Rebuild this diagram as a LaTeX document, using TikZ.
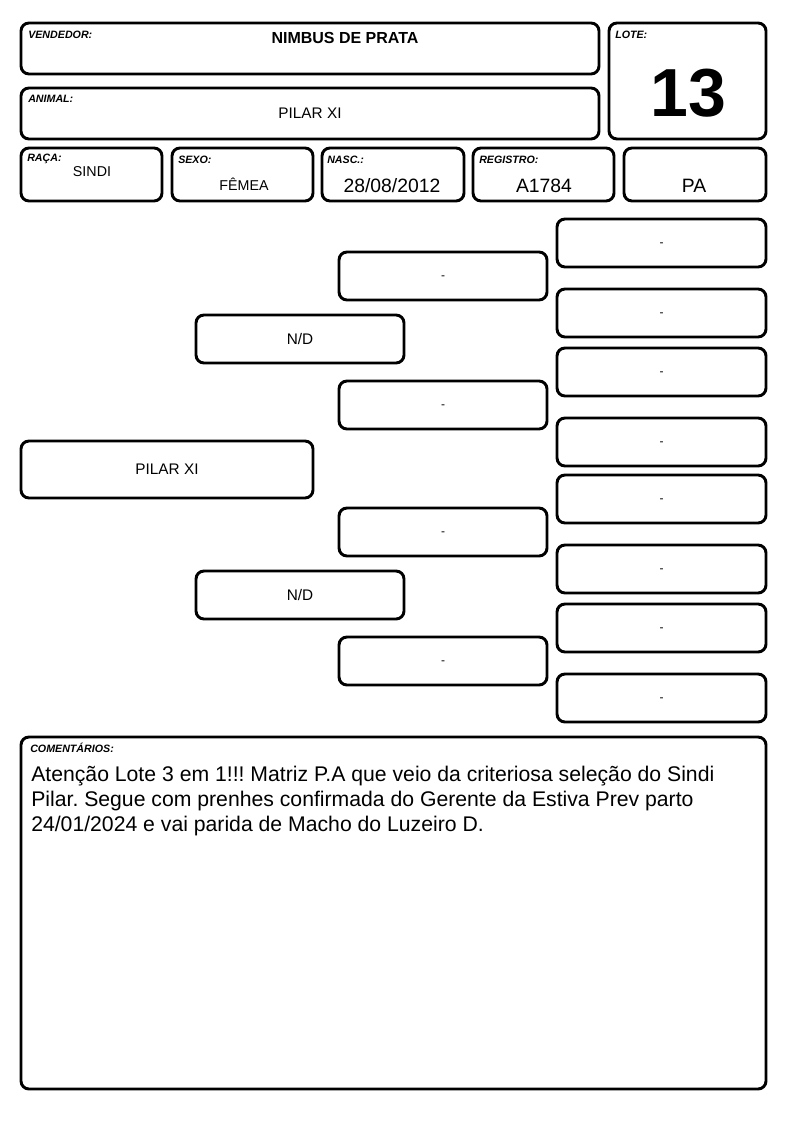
\documentclass[tikz,border=0pt]{standalone}
\usepackage{fontspec}
\setmainfont{Liberation Sans}
\begin{document}
\frenchspacing
\begin{tikzpicture}[x=0.75pt,y=-0.75pt,
  box/.style={draw=black, line width=2.2pt, rounded corners=6pt, inner sep=0pt, fill=white},
  lbl/.style={anchor=west, inner sep=0pt, font=\fontsize{8}{9}\selectfont\bfseries\itshape},
  val/.style={inner sep=0pt, font=\fontsize{10.7}{12}\selectfont},
  big/.style={inner sep=0pt, font=\fontsize{14.5}{16}\selectfont},
  ped/.style={inner sep=0pt, font=\fontsize{11.5}{13}\selectfont},
  emptyval/.style={inner sep=0pt, font=\fontsize{9}{10}\selectfont},
  comline/.style={anchor=base west, inner sep=0pt, font=\fontsize{15.9}{18.5}\selectfont}]
\newcommand\bx[5]{\node[box, minimum width={(#4-#2)*0.75pt}, minimum height={(#5-#3)*0.75pt}] (#1) at ({(#2+#4)/2},{(#3+#5)/2}) {};}
\useasboundingbox[fill=white] (0,0) rectangle (794,1123);
% header
\bx{vend}{21}{23}{599}{74}
\bx{anim}{21}{88}{599}{139}
\bx{lote}{609}{23}{766}{139}
\node[lbl] (vendl) at (28,35) {VENDEDOR:};
\node[inner sep=0pt, font=\fontsize{12}{14}\selectfont\bfseries] (vendv) at (345,38) {NIMBUS DE PRATA};
\node[lbl] (animl) at (28,99) {ANIMAL:};
\node[inner sep=0pt, font=\fontsize{11.5}{13}\selectfont] (animv) at (310,113) {PILAR XI};
\node[lbl] (lotel) at (615,35) {LOTE:};
\node[inner sep=0pt, font=\fontsize{51}{55}\selectfont\bfseries] (lotev) at (688,93) {13};
% row 3
\bx{raca}{21}{148}{162}{201}
\bx{sexo}{172}{148}{313}{201}
\bx{nasc}{322}{148}{464}{201}
\bx{reg}{473}{148}{614}{201}
\bx{uf}{624}{148}{766}{201}
\node[lbl] (racal) at (27,159) {RAÇA:};
\node[val] (racav) at (92,172) {SINDI};
\node[lbl] (sexol) at (178,160) {SEXO:};
\node[val] (sexov) at (244,184) {FÊMEA};
\node[lbl] (nascl) at (327,160) {NASC.:};
\node[big] (nascv) at (392,186) {28/08/2012};
\node[lbl] (regl) at (479,160) {REGISTRO:};
\node[big] (regv) at (544,186) {A1784};
\node[big] (ufv) at (694,186) {PA};
% pedigree
\bx{p0}{21}{441}{313}{498}
\node[ped] at (p0) {PILAR XI};
\bx{p1}{196}{315}{404}{363}
\node[ped] at (p1) {N/D};
\bx{p2}{196}{571}{404}{619}
\node[ped] at (p2) {N/D};
\bx{g1}{339}{252}{547}{300}
\bx{g2}{339}{381}{547}{429}
\bx{g3}{339}{508}{547}{556}
\bx{g4}{339}{637}{547}{685}
\foreach \n in {g1,g2,g3,g4} {\node[emptyval] at ([yshift=-1.5pt]\n) {-};}
\bx{h1}{557}{219}{766}{267}
\bx{h2}{557}{289}{766}{337}
\bx{h3}{557}{348}{766}{396}
\bx{h4}{557}{418}{766}{466}
\bx{h5}{557}{475}{766}{523}
\bx{h6}{557}{545}{766}{593}
\bx{h7}{557}{604}{766}{652}
\bx{h8}{557}{674}{766}{722}
\foreach \n in {h1,h2,h3,h4,h5,h6,h7,h8} {\node[emptyval] at ([yshift=-1.5pt]\n) {-};}
% comments
\bx{com}{21}{737}{766}{1089}
\node[lbl] (coml) at (30,748) {COMENTÁRIOS:};
\node[comline] (com1) at (31,781) {Atenção Lote 3 em 1!!! Matriz P.A que veio da criteriosa seleção do Sindi};
\node[comline] (com2) at (31,806) {Pilar. Segue com prenhes confirmada do Gerente da Estiva Prev parto};
\node[comline] (com3) at (31,831) {24/01/2024 e vai parida de Macho do Luzeiro D.};
\end{tikzpicture}
\end{document}
